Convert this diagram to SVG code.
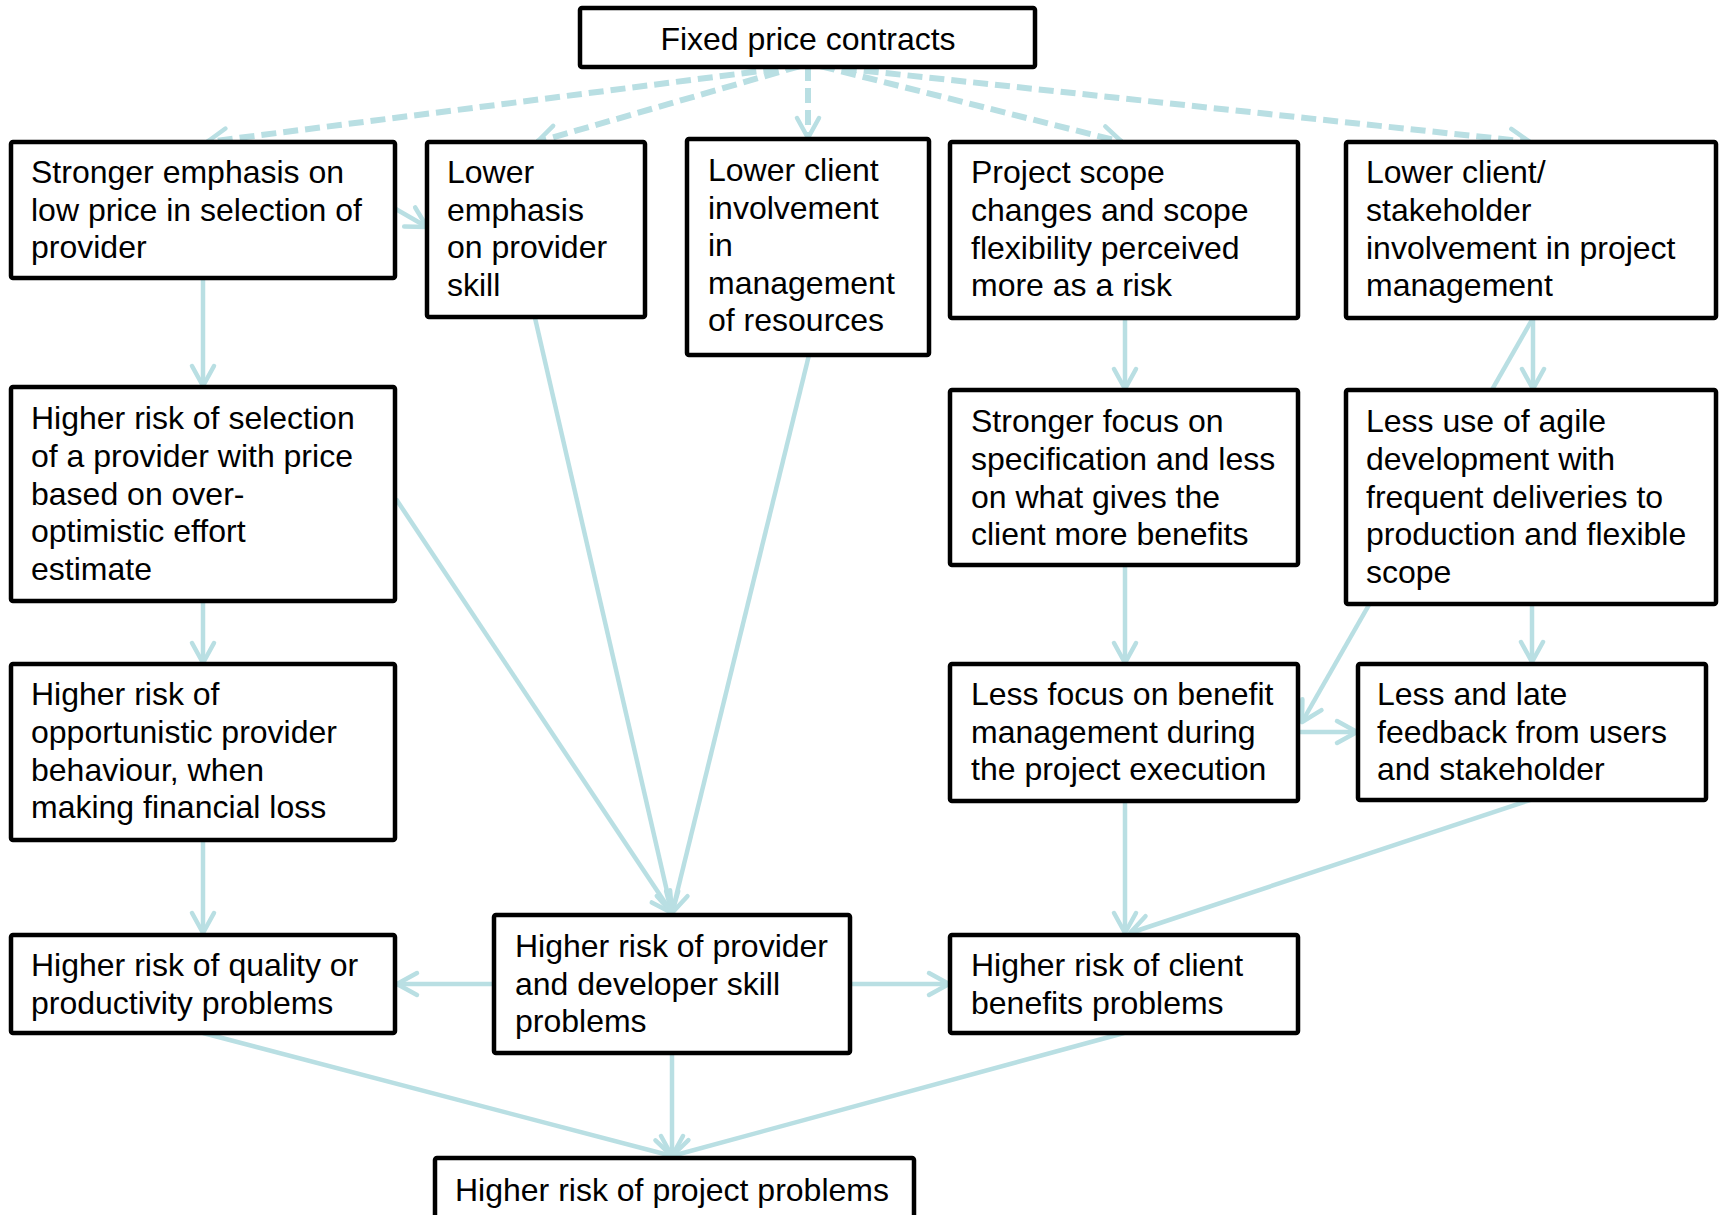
<svg xmlns="http://www.w3.org/2000/svg" width="1721" height="1215" viewBox="0 0 1721 1215">
<style>
.box{fill:#fff;stroke:#000;stroke-width:4.5}
.t{font-family:"Liberation Sans",Arial,sans-serif;font-size:32px;fill:#000}
.c{fill:none;stroke:#b9dfe3;stroke-width:4.5}
.d{stroke-dasharray:15 7;stroke-width:6}
</style>
<defs>
<marker id="ah" markerUnits="userSpaceOnUse" markerWidth="30" markerHeight="30" viewBox="-26 -15 30 30" refX="0" refY="0" orient="auto">
<path d="M-20,-11 L0,0 L-20,11" fill="none" stroke="#b9dfe3" stroke-width="4.5" stroke-linecap="round" stroke-linejoin="round"/>
</marker>
</defs>
<rect width="1721" height="1215" fill="#fff"/>
<g id="connectors">
<line class="c d" x1="800" y1="66" x2="207" y2="142" marker-end="url(#ah)"/>
<line class="c d" x1="800" y1="66" x2="537" y2="142" marker-end="url(#ah)"/>
<line class="c d" x1="808" y1="66" x2="808" y2="138" marker-end="url(#ah)"/>
<line class="c d" x1="820" y1="66" x2="1122" y2="142" marker-end="url(#ah)"/>
<line class="c d" x1="820" y1="66" x2="1530" y2="142" marker-end="url(#ah)"/>
<line class="c" x1="394" y1="208" x2="427" y2="227" marker-end="url(#ah)"/>
<line class="c" x1="203" y1="279" x2="203" y2="386" marker-end="url(#ah)"/>
<line class="c" x1="203" y1="601" x2="203" y2="663" marker-end="url(#ah)"/>
<line class="c" x1="203" y1="840" x2="203" y2="933" marker-end="url(#ah)"/>
<line class="c" x1="535" y1="318" x2="672" y2="913" marker-end="url(#ah)"/>
<line class="c" x1="809" y1="355" x2="672" y2="913" marker-end="url(#ah)"/>
<line class="c" x1="396" y1="499" x2="672" y2="913" marker-end="url(#ah)"/>
<line class="c" x1="494" y1="984" x2="397" y2="984" marker-end="url(#ah)"/>
<line class="c" x1="850" y1="984" x2="949" y2="984" marker-end="url(#ah)"/>
<line class="c" x1="672" y1="1053" x2="672" y2="1156" marker-end="url(#ah)"/>
<line class="c" x1="203" y1="1033" x2="672" y2="1156" marker-end="url(#ah)"/>
<line class="c" x1="1124" y1="1033" x2="672" y2="1156" marker-end="url(#ah)"/>
<line class="c" x1="1125" y1="318" x2="1125" y2="389" marker-end="url(#ah)"/>
<line class="c" x1="1125" y1="565" x2="1125" y2="663" marker-end="url(#ah)"/>
<line class="c" x1="1125" y1="801" x2="1125" y2="933" marker-end="url(#ah)"/>
<line class="c" x1="1530" y1="800" x2="1130" y2="933" marker-end="url(#ah)"/>
<line class="c" x1="1533" y1="318" x2="1533" y2="389" marker-end="url(#ah)"/>
<line class="c" x1="1533" y1="318" x2="1302" y2="722" marker-end="url(#ah)"/>
<line class="c" x1="1299" y1="732" x2="1357" y2="732" marker-end="url(#ah)"/>
<line class="c" x1="1532" y1="604" x2="1532" y2="662" marker-end="url(#ah)"/>
</g>
<g id="n0"><rect class="box" x="580" y="8" width="455" height="59" rx="2"/><text class="t" x="808" y="50" text-anchor="middle">Fixed price contracts</text></g>
<g id="n1"><rect class="box" x="11" y="142" width="384" height="136" rx="2"/><text class="t" x="31" y="183"><tspan x="31">Stronger emphasis on</tspan><tspan x="31" dy="37.5">low price in selection of</tspan><tspan x="31" dy="37.5">provider</tspan></text></g>
<g id="n2"><rect class="box" x="427" y="142" width="218" height="175" rx="2"/><text class="t" x="447" y="183"><tspan x="447">Lower</tspan><tspan x="447" dy="37.5">emphasis</tspan><tspan x="447" dy="37.5">on provider</tspan><tspan x="447" dy="37.5">skill</tspan></text></g>
<g id="n3"><rect class="box" x="687" y="139" width="242" height="216" rx="2"/><text class="t" x="708" y="181"><tspan x="708">Lower client</tspan><tspan x="708" dy="37.5">involvement</tspan><tspan x="708" dy="37.5">in</tspan><tspan x="708" dy="37.5">management</tspan><tspan x="708" dy="37.5">of resources</tspan></text></g>
<g id="n4"><rect class="box" x="950" y="142" width="348" height="176" rx="2"/><text class="t" x="971" y="183"><tspan x="971">Project scope</tspan><tspan x="971" dy="37.8">changes and scope</tspan><tspan x="971" dy="37.8">flexibility perceived</tspan><tspan x="971" dy="37.8">more as a risk</tspan></text></g>
<g id="n5"><rect class="box" x="1346" y="142" width="370" height="176" rx="2"/><text class="t" x="1366" y="183"><tspan x="1366">Lower client/</tspan><tspan x="1366" dy="37.8">stakeholder</tspan><tspan x="1366" dy="37.8">involvement in project</tspan><tspan x="1366" dy="37.8">management</tspan></text></g>
<g id="n6"><rect class="box" x="11" y="387" width="384" height="214" rx="2"/><text class="t" x="31" y="429"><tspan x="31">Higher risk of selection</tspan><tspan x="31" dy="37.8">of a provider with price</tspan><tspan x="31" dy="37.8">based on over-</tspan><tspan x="31" dy="37.8">optimistic effort</tspan><tspan x="31" dy="37.8">estimate</tspan></text></g>
<g id="n7"><rect class="box" x="950" y="390" width="348" height="175" rx="2"/><text class="t" x="971" y="432"><tspan x="971">Stronger focus on</tspan><tspan x="971" dy="37.8">specification and less</tspan><tspan x="971" dy="37.8">on what gives the</tspan><tspan x="971" dy="37.8">client more benefits</tspan></text></g>
<g id="n8"><rect class="box" x="1346" y="390" width="370" height="214" rx="2"/><text class="t" x="1366" y="432"><tspan x="1366">Less use of agile</tspan><tspan x="1366" dy="37.8">development with</tspan><tspan x="1366" dy="37.8">frequent deliveries to</tspan><tspan x="1366" dy="37.8">production and flexible</tspan><tspan x="1366" dy="37.8">scope</tspan></text></g>
<g id="n9"><rect class="box" x="11" y="664" width="384" height="176" rx="2"/><text class="t" x="31" y="705"><tspan x="31">Higher risk of</tspan><tspan x="31" dy="37.8">opportunistic provider</tspan><tspan x="31" dy="37.8">behaviour, when</tspan><tspan x="31" dy="37.8">making financial loss</tspan></text></g>
<g id="n10"><rect class="box" x="950" y="664" width="348" height="137" rx="2"/><text class="t" x="971" y="705"><tspan x="971">Less focus on benefit</tspan><tspan x="971" dy="37.5">management during</tspan><tspan x="971" dy="37.5">the project execution</tspan></text></g>
<g id="n11"><rect class="box" x="1358" y="664" width="348" height="136" rx="2"/><text class="t" x="1377" y="705"><tspan x="1377">Less and late</tspan><tspan x="1377" dy="37.5">feedback from users</tspan><tspan x="1377" dy="37.5">and stakeholder</tspan></text></g>
<g id="n12"><rect class="box" x="11" y="935" width="384" height="98" rx="2"/><text class="t" x="31" y="976"><tspan x="31">Higher risk of quality or</tspan><tspan x="31" dy="37.5">productivity problems</tspan></text></g>
<g id="n13"><rect class="box" x="494" y="915" width="356" height="138" rx="2"/><text class="t" x="515" y="957"><tspan x="515">Higher risk of provider</tspan><tspan x="515" dy="37.5">and developer skill</tspan><tspan x="515" dy="37.5">problems</tspan></text></g>
<g id="n14"><rect class="box" x="950" y="935" width="348" height="98" rx="2"/><text class="t" x="971" y="976"><tspan x="971">Higher risk of client</tspan><tspan x="971" dy="37.5">benefits problems</tspan></text></g>
<g id="n15"><rect class="box" x="435" y="1158" width="479" height="80" rx="2"/><text class="t" x="455" y="1201">Higher risk of project problems</text></g>
</svg>
